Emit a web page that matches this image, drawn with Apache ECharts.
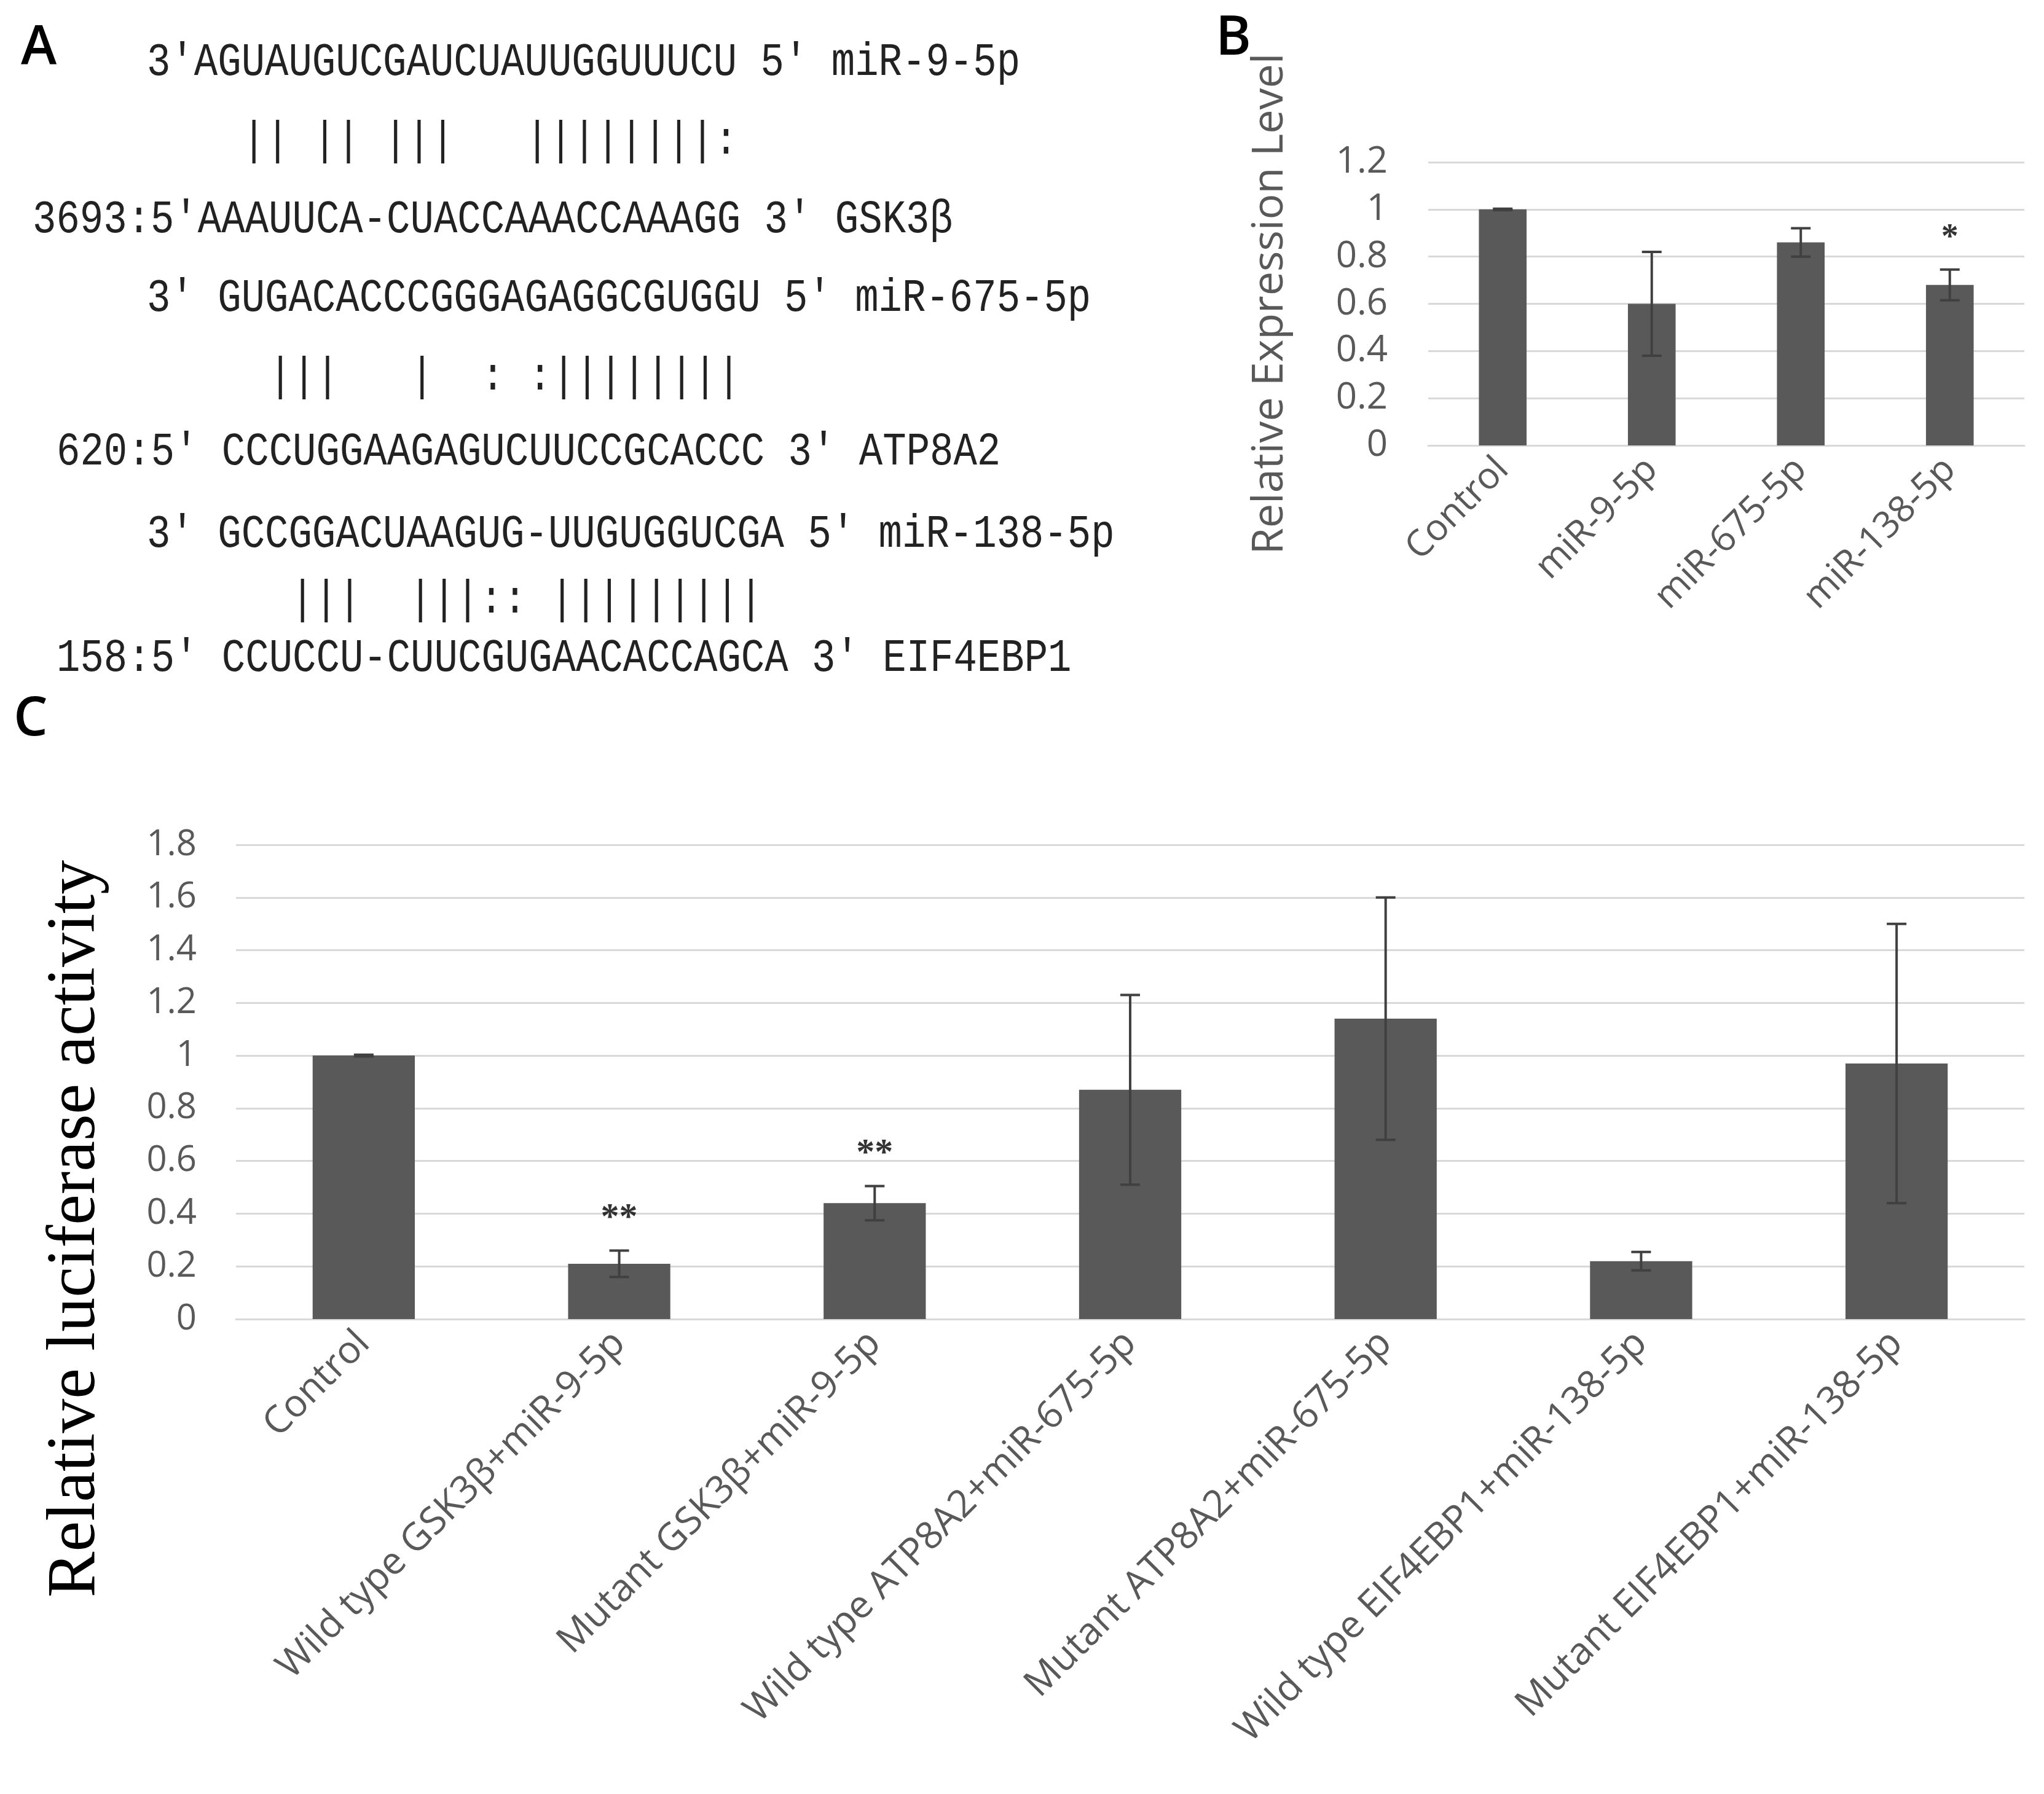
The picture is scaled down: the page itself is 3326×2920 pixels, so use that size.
<!DOCTYPE html>
<html>
<head>
<meta charset="UTF-8">
<script src="https://cdn.jsdelivr.net/npm/echarts@6/dist/echarts.min.js"></script>
<style>
  body { margin: 0; background: #fff; }
  #main { width: 3326px; height: 2920px; }
</style>
</head>
<body>
<div id="main"></div>
<script>
var chart = echarts.init(document.getElementById('main'));

// panel B: expression
var catB = ['Control', 'miR-9-5p', 'miR-675-5p', 'miR-138-5p'];
var valB = [1.0, 0.60, 0.86, 0.68];
var errB = [0.003, 0.22, 0.06, 0.065];
var starB = ['', '', '', '*'];

// panel C: luciferase
var catC = ['Control', 'Wild type GSK3β+miR-9-5p', 'Mutant GSK3β+miR-9-5p',
  'Wild type ATP8A2+miR-675-5p', 'Mutant ATP8A2+miR-675-5p',
  'Wild type EIF4EBP1+miR-138-5p', 'Mutant EIF4EBP1+miR-138-5p'];
var valC = [1.0, 0.21, 0.44, 0.87, 1.14, 0.22, 0.97];
var errC = [0.003, 0.05, 0.065, 0.36, 0.46, 0.035, 0.53];
var starC = ['', '**', '**', '', '', '', ''];

// panel A alignments
var seqLines = [
  { x: 239, y: 102, t: "3'AGUAUGUCGAUCUAUUGGUUUCU 5' miR-9-5p" },
  { x: 394, y: 230, t: "|| || |||   ||||||||:" },
  { x: 53, y: 358, t: "3693:5'AAAUUCA-CUACCAAACCAAAGG 3' GSK3β" },
  { x: 239, y: 486, t: "3' GUGACACCCGGGAGAGGCGUGGU 5' miR-675-5p" },
  { x: 437, y: 614, t: "|||   |  : :||||||||" },
  { x: 92, y: 736, t: "620:5' CCCUGGAAGAGUCUUCCGCACCC 3' ATP8A2" },
  { x: 239, y: 870, t: "3' GCCGGACUAAGUG-UUGUGGUCGA 5' miR-138-5p" },
  { x: 473, y: 977, t: "|||  |||:: |||||||||" },
  { x: 92, y: 1072, t: "158:5' CCUCCU-CUUCGUGAACACCAGCA 3' EIF4EBP1" }
];

function errSeries(idx, vals, errs, cap) {
  return {
    type: 'custom', xAxisIndex: idx, yAxisIndex: idx, z: 5,
    data: vals.map(function (v, i) { return [i, v - errs[i], v + errs[i]]; }),
    renderItem: function (params, api) {
      var lo = api.coord([api.value(0), api.value(1)]);
      var hi = api.coord([api.value(0), api.value(2)]);
      var st = { stroke: '#404040', lineWidth: 4 };
      return {
        type: 'group', children: [
          { type: 'line', shape: { x1: lo[0], y1: lo[1], x2: hi[0], y2: hi[1] }, style: st },
          { type: 'line', shape: { x1: hi[0] - cap, y1: hi[1], x2: hi[0] + cap, y2: hi[1] }, style: st },
          { type: 'line', shape: { x1: lo[0] - cap, y1: lo[1], x2: lo[0] + cap, y2: lo[1] }, style: st }
        ]
      };
    }
  };
}

function starSeries(idx, vals, errs, stars, size) {
  return {
    type: 'scatter', xAxisIndex: idx, yAxisIndex: idx, symbolSize: 0, silent: true,
    data: vals.map(function (v, i) { return [i, v + errs[i]]; }),
    label: {
      show: true, position: 'top', distance: 22, color: '#000', fontSize: size,
      fontFamily: 'Liberation Serif', fontWeight: 'bold',
      formatter: function (p) { return stars[p.dataIndex]; }
    }
  };
}

var graphics = [
  { type: 'text', left: 34, top: 36, style: { text: 'A', fontSize: 88, fontFamily: 'Open Sans', fontWeight: 600, fill: '#000' } },
  { type: 'text', left: 1978, top: 20, style: { text: 'B', fontSize: 88, fontFamily: 'Open Sans', fontWeight: 600, fill: '#000' } },
  { type: 'text', left: 22, top: 1128, style: { text: 'C', fontSize: 88, fontFamily: 'Open Sans', fontWeight: 600, fill: '#000' } },
  { type: 'text', x: 124, y: 2000, rotation: Math.PI / 2,
    style: { text: 'Relative luciferase activity', fontSize: 112, fontFamily: 'Liberation Serif',
      fill: '#000', align: 'center', verticalAlign: 'middle' } }
];
seqLines.forEach(function (l) {
  graphics.push({
    type: 'text', x: l.x, y: l.y, scaleY: 1.2,
    style: { text: l.t, fontSize: 64, fontFamily: 'Liberation Mono', fill: '#222', verticalAlign: 'middle' }
  });
});

var axisLab = { color: '#595959', fontFamily: 'Open Sans' };

chart.setOption({
  animation: false,
  graphic: graphics,
  grid: [
    { left: 2324, right: 32, top: 264, height: 461 },
    { left: 384, right: 32, top: 1375, height: 772 }
  ],
  xAxis: [
    { type: 'category', gridIndex: 0, data: catB, axisTick: { show: false },
      axisLine: { lineStyle: { color: '#d9d9d9', width: 3 } },
      axisLabel: Object.assign({ rotate: 45, fontSize: 60, margin: 30 }, axisLab) },
    { type: 'category', gridIndex: 1, data: catC, axisTick: { show: false },
      axisLine: { lineStyle: { color: '#d9d9d9', width: 3 } },
      axisLabel: Object.assign({ rotate: 45, fontSize: 62, margin: 30, interval: 0 }, axisLab) }
  ],
  yAxis: [
    { type: 'value', gridIndex: 0, min: 0, max: 1.2, interval: 0.2,
      name: 'Relative Expression Level', nameLocation: 'middle', nameGap: 222,
      nameTextStyle: { fontSize: 70, color: '#595959', fontFamily: 'Open Sans' },
      splitLine: { lineStyle: { color: '#d9d9d9', width: 3 } },
      axisLabel: Object.assign({ fontSize: 60, margin: 66 }, axisLab) },
    { type: 'value', gridIndex: 1, min: 0, max: 1.8, interval: 0.2,
      splitLine: { lineStyle: { color: '#d9d9d9', width: 3 } },
      axisLabel: Object.assign({ fontSize: 58, margin: 64 }, axisLab) }
  ],
  series: [
    { type: 'bar', xAxisIndex: 0, yAxisIndex: 0, data: valB, barWidth: '32%', itemStyle: { color: '#595959' } },
    errSeries(0, valB, errB, 16),
    starSeries(0, valB, errB, starB, 56),
    { type: 'bar', xAxisIndex: 1, yAxisIndex: 1, data: valC, barWidth: '40%', itemStyle: { color: '#595959' } },
    errSeries(1, valC, errC, 16),
    starSeries(1, valC, errC, starC, 60)
  ]
});
</script>
</body>
</html>
